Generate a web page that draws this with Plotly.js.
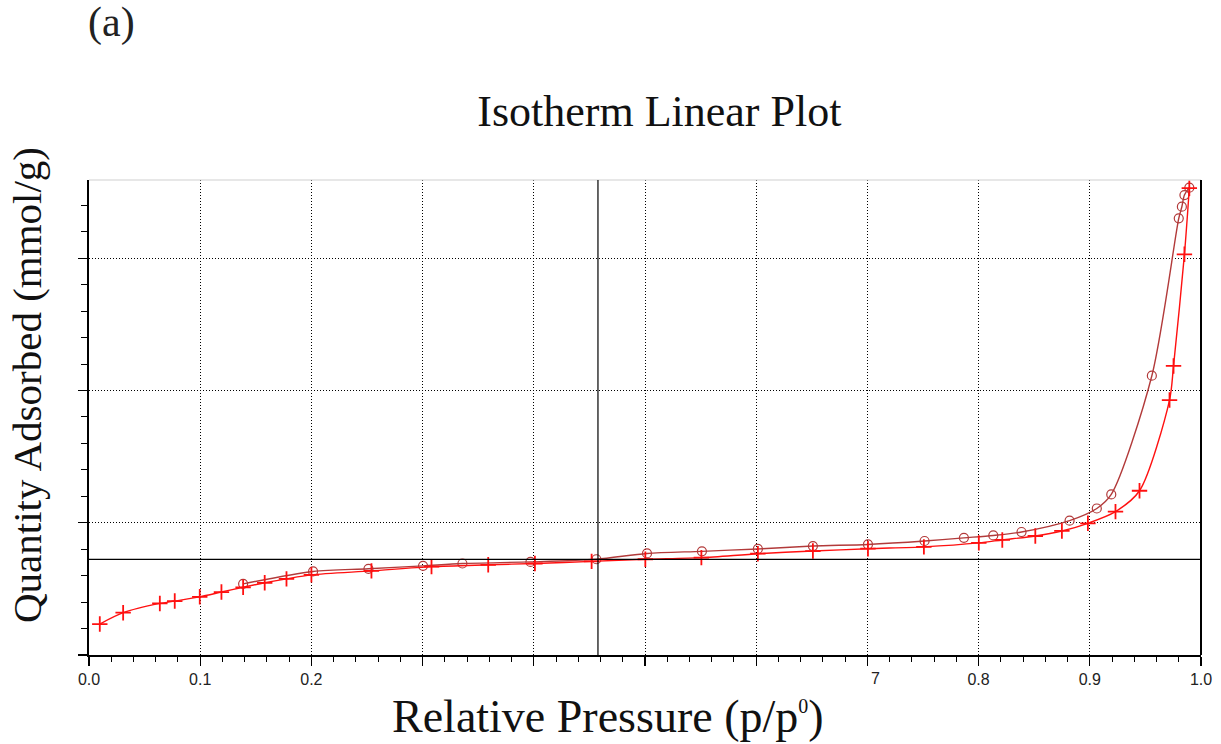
<!DOCTYPE html>
<html>
<head>
<meta charset="utf-8">
<script src="https://cdn.plot.ly/plotly-3.0.1.min.js"></script>
<style>
  html, body { margin: 0; padding: 0; background: #ffffff; }
  #chart { width: 1221px; height: 744px; }
</style>
</head>
<body>
<div id="chart"></div>
<script>
// Adsorption branch (relative pressure p/p0, quantity adsorbed in mmol/g)
const pressureAds = [0.0097, 0.0307, 0.0637, 0.0771, 0.0996, 0.1191, 0.1386, 0.158, 0.1776, 0.2,
  0.254, 0.308, 0.359, 0.401, 0.452, 0.5003, 0.5507, 0.6015, 0.651, 0.7005,
  0.7508, 0.8002, 0.8213, 0.851, 0.8749, 0.8983, 0.9231, 0.9447, 0.9717, 0.9753, 0.9851, 0.9895];
const quantityAds = [1.17, 1.60, 1.95, 2.04, 2.20, 2.38, 2.56, 2.73, 2.88, 3.03,
  3.18, 3.34, 3.41, 3.46, 3.54, 3.62, 3.68, 3.83, 3.93, 4.02,
  4.09, 4.24, 4.35, 4.50, 4.69, 4.98, 5.42, 6.21, 9.64, 10.93, 15.15, 17.65];

// Desorption branch, from high to low pressure
const pressureDes = [0.9895, 0.9851, 0.9828, 0.980, 0.9558, 0.9193, 0.9063, 0.8818, 0.8386, 0.8132,
  0.7868, 0.7514, 0.7005, 0.651, 0.6015, 0.5512, 0.5018, 0.4563, 0.397, 0.3358,
  0.3004, 0.2513, 0.2015, 0.1386];
const quantityDes = [17.67, 17.39, 16.95, 16.51, 10.56, 6.07, 5.54, 5.08, 4.65, 4.52,
  4.43, 4.31, 4.18, 4.12, 4.01, 3.92, 3.84, 3.62, 3.52, 3.46,
  3.37, 3.26, 3.16, 2.69];

// Cursor crosshair position
const cursorPressure = 0.4577;
const cursorQuantity = 3.616;

// X ticks; labels between 0.2 and 0.8 are hidden in this view, only the tail of 0.7 shows
const xTickVals = [0, 0.1, 0.2, 0.3, 0.4, 0.5, 0.6, 0.7, 0.8, 0.9, 1.0];
const xTickText = ['0.0', '0.1', '0.2', '', '', '', '', '', '0.8', '0.9', '1.0'];
const partialLabelPos = 0.7;
const partialLabelText = '7';

const serif = 'Liberation Serif, Times New Roman, serif';
const sans = 'Liberation Sans, Arial, sans-serif';

const traces = [
  {
    x: pressureDes, y: quantityDes,
    type: 'scatter', mode: 'lines+markers',
    line: { color: '#b23a3a', width: 1.4, shape: 'spline', smoothing: 0.8 },
    marker: { symbol: 'circle-open', size: 9, color: '#b23a3a', line: { width: 1.2, color: '#b23a3a' } },
    hoverinfo: 'skip'
  },
  {
    x: pressureAds, y: quantityAds,
    type: 'scatter', mode: 'lines+markers',
    line: { color: '#ff1010', width: 1.4, shape: 'spline', smoothing: 0.8 },
    marker: { symbol: 'cross-thin', size: 11, color: '#ff1010', line: { width: 1.8, color: '#ff1010' } },
    hoverinfo: 'skip'
  }
];

const gridDash = '1px,2px';

const layout = {
  width: 1221, height: 744,
  margin: { l: 89, r: 20, t: 180, b: 89, pad: 0 },
  paper_bgcolor: '#ffffff', plot_bgcolor: '#ffffff',
  showlegend: false,
  title: {
    text: 'Isotherm Linear Plot',
    font: { family: serif, size: 44, color: '#111111' },
    xref: 'container', yref: 'container',
    x: 0.54, xanchor: 'center', y: 0.852, yanchor: 'middle'
  },
  xaxis: {
    range: [0, 1], fixedrange: true,
    tickmode: 'array', tickvals: xTickVals, ticktext: xTickText,
    ticks: 'outside', ticklen: 9, tickwidth: 1.2, tickcolor: '#000000',
    tickfont: { family: sans, size: 16, color: '#222222' },
    showline: true, linecolor: '#000000', linewidth: 2,
    showgrid: true, gridcolor: '#000000', gridwidth: 1, griddash: gridDash,
    zeroline: false,
    minor: { dtick: 0.02, ticks: 'outside', ticklen: 5, tickwidth: 1, tickcolor: '#000000', showgrid: false }
  },
  yaxis: {
    range: [0, 17.96], fixedrange: true,
    tickmode: 'linear', tick0: 0, dtick: 5,
    showticklabels: false,
    ticks: 'outside', ticklen: 9, tickwidth: 1.2, tickcolor: '#000000',
    showline: true, linecolor: '#000000', linewidth: 2,
    showgrid: true, gridcolor: '#000000', gridwidth: 1, griddash: gridDash,
    zeroline: false,
    minor: { dtick: 1, ticks: 'outside', ticklen: 6, tickwidth: 1, tickcolor: '#000000', showgrid: false }
  },
  shapes: [
    // frame: light top edge, dark right edge
    { type: 'line', xref: 'paper', yref: 'paper', x0: 0, x1: 1, y0: 1, y1: 1,
      line: { color: '#cfcfcf', width: 1 } },
    { type: 'line', xref: 'paper', yref: 'paper', x0: 1, x1: 1, y0: 0, y1: 1,
      line: { color: '#000000', width: 2 } },
    // cursor crosshair
    { type: 'line', xref: 'paper', yref: 'y', x0: 0, x1: 1, y0: cursorQuantity, y1: cursorQuantity,
      line: { color: '#000000', width: 1.2 } },
    { type: 'line', xref: 'x', yref: 'paper', x0: cursorPressure, x1: cursorPressure, y0: 0, y1: 1,
      line: { color: '#000000', width: 1.2 } }
  ],
  annotations: [
    { text: '(a)', xref: 'paper', yref: 'paper', showarrow: false,
      x: (111 - 89) / 1112, y: (655 - 23) / 475, xanchor: 'center', yanchor: 'middle',
      font: { family: serif, size: 42, color: '#222222' } },
    { text: partialLabelText, xref: 'x', yref: 'paper', showarrow: false,
      x: partialLabelPos, y: -(678 - 655) / 475, xshift: 8, xanchor: 'center', yanchor: 'middle',
      font: { family: sans, size: 16, color: '#222222' } },
    { text: 'Relative Pressure (p/p<sup><span style="font-size:20px">0</span></sup>)', xref: 'paper', yref: 'paper', showarrow: false,
      x: (608 - 89) / 1112, y: -(716 - 655) / 475, xanchor: 'center', yanchor: 'middle',
      font: { family: serif, size: 46, color: '#111111' } },
    { text: 'Quantity Adsorbed (mmol/g)', xref: 'paper', yref: 'paper', showarrow: false, textangle: -90,
      x: -(89 - 27) / 1112, y: (655 - 385) / 475, xanchor: 'center', yanchor: 'middle',
      font: { family: serif, size: 41, color: '#111111' } }
  ]
};

Plotly.newPlot('chart', traces, layout, { displayModeBar: false, staticPlot: true });
</script>
</body>
</html>
